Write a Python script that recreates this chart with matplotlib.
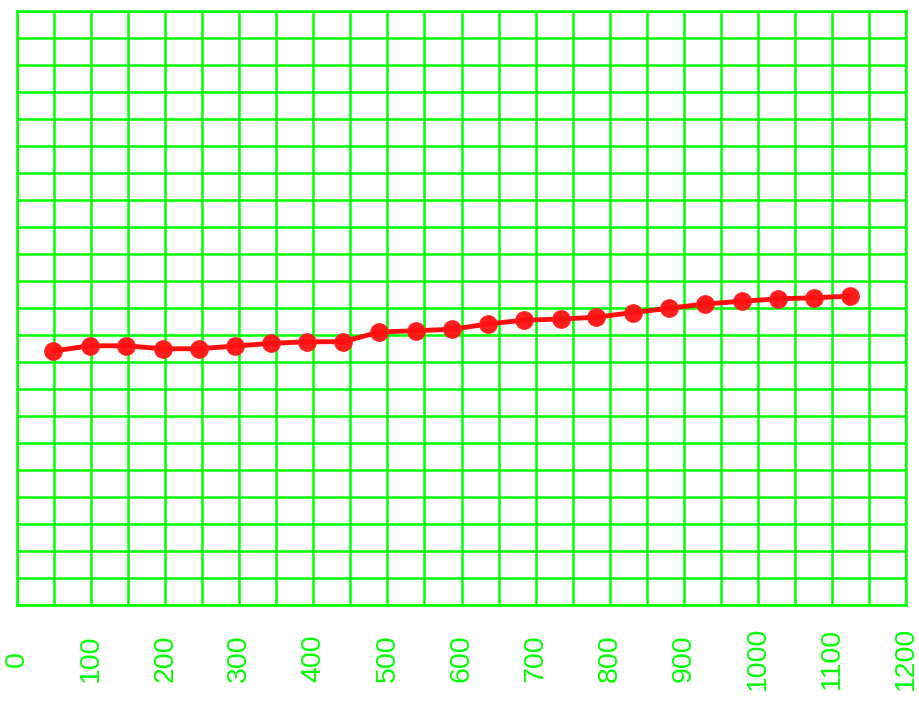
import numpy as np
import matplotlib
matplotlib.use('Agg')
import matplotlib.pyplot as plt

# values
x_vals = [49, 99, 147, 197, 245, 294, 343, 392, 440, 489, 538, 587,
          636, 685, 734, 782, 831, 880, 929, 978, 1027, 1076, 1124]
y_vals = [9.40, 9.59, 9.59, 9.48, 9.48, 9.58, 9.68, 9.74, 9.74, 10.10, 10.15, 10.20,
          10.40, 10.54, 10.58, 10.65, 10.82, 10.98, 11.14, 11.24, 11.33, 11.37, 11.43]
x_ticks = list(range(0, 1201, 100))
x_minor = list(range(50, 1200, 100))
y_ticks = list(range(0, 23))

green = '#00ff00'

fig = plt.figure(figsize=(9.19, 7.03), dpi=100)
ax = fig.add_axes([17/919, 1 - 604.5/703, 889/919, 593.5/703])

ax.plot(x_vals, y_vals, color='#ff0000', lw=3.5, marker='o', ms=12.5,
        mfc='#ff1010', mec='#ff2020', alpha=0.95, zorder=3)

ax.set_xlim(0, 1200)
ax.set_ylim(0, 22)
ax.set_xticks(x_ticks)
ax.set_xticks(x_minor, minor=True)
ax.set_xticklabels([str(t) for t in x_ticks])
ax.set_yticks(y_ticks)
ax.set_yticklabels([])

ax.grid(True, which='both', color=green, lw=1.8)
ax.set_axisbelow(True)
for s in ax.spines.values():
    s.set_color(green)
    s.set_linewidth(1.8)

ax.tick_params(axis='both', which='both', length=0)
ax.tick_params(axis='x', pad=39, labelcolor=green)
for lab in ax.get_xticklabels():
    lab.set_rotation(90)
    lab.set_va('center')
    lab.set_ha('center')
    lab.set_fontsize(20.5)
    lab.set_family('Liberation Sans')

fig.savefig('out.png', dpi=100)
